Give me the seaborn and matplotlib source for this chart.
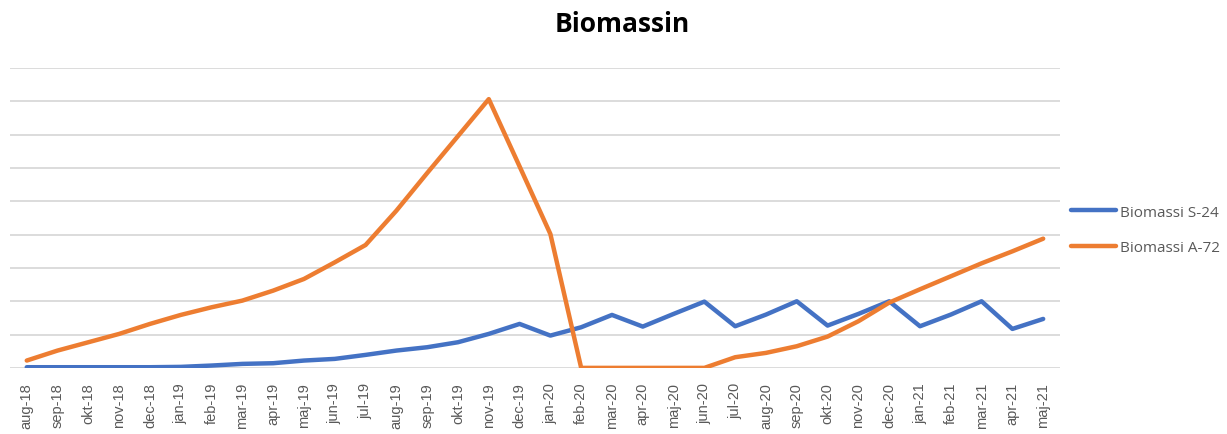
import numpy as np
import pandas as pd
import seaborn as sns
import matplotlib.pyplot as plt

months = ["aug-18", "sep-18", "okt-18", "nov-18", "dec-18", "jan-19", "feb-19", "mar-19",
          "apr-19", "maj-19", "jun-19", "jul-19", "aug-19", "sep-19", "okt-19", "nov-19",
          "dec-19", "jan-20", "feb-20", "mar-20", "apr-20", "maj-20", "jun-20", "jul-20",
          "aug-20", "sep-20", "okt-20", "nov-20", "dec-20", "jan-21", "feb-21", "mar-21",
          "apr-21", "maj-21"]

s24 = [0.02, 0.02, 0.02, 0.02, 0.02, 0.03, 0.07, 0.12, 0.14, 0.22, 0.27, 0.39, 0.52, 0.62,
       0.77, 1.02, 1.32, 0.97, 1.22, 1.59, 1.24, 1.62, 1.99, 1.25, 1.60, 2.00, 1.27, 1.62,
       2.00, 1.25, 1.60, 2.00, 1.17, 1.47]

a72 = [0.22, 0.52, 0.77, 1.02, 1.32, 1.59, 1.82, 2.02, 2.32, 2.67, 3.17, 3.69, 4.72, 5.85,
       6.96, 8.07, 6.05, 4.02, 0.0, 0.0, 0.0, 0.0, 0.0, 0.32, 0.45, 0.65, 0.94, 1.40,
       1.96, 2.36, 2.75, 3.14, 3.50, 3.88]

df = pd.DataFrame({
    "idx": list(range(len(months))) * 2,
    "value": s24 + a72,
    "serie": ["Biomassi S-24"] * len(months) + ["Biomassi A-72"] * len(months),
})

sns.set_style("white")

fig = plt.figure(figsize=(12.27, 4.35), dpi=100)
ax = fig.add_axes([0.008, 0.152, 0.856, 0.689])

sns.lineplot(data=df, x="idx", y="value", hue="serie",
             palette={"Biomassi S-24": "#4472C4", "Biomassi A-72": "#ED7D31"},
             linewidth=3.2, ax=ax, legend=True, zorder=3)

ax.set_xlim(-0.55, len(months) - 0.45)
ax.set_ylim(0, 9)
ax.set_yticks(np.arange(0, 10, 1))
ax.set_yticklabels([])
ax.tick_params(axis="y", length=0)
ax.grid(axis="y", color="#d9d9d9", linewidth=1.3, zorder=0)
ax.set_xticks(range(len(months)))
ax.set_xticklabels(months, rotation=90, fontsize=10.5, color="#595959",
                   family="Liberation Sans")
ax.tick_params(axis="x", length=0, pad=10)
ax.set_xlabel("")
ax.set_ylabel("")
for s in ax.spines.values():
    s.set_visible(False)

ax.legend(loc="center left", bbox_to_anchor=(0.862, 0.469), bbox_transform=fig.transFigure,
          frameon=False, handlelength=2.9, handletextpad=0.3,
          labelspacing=1.35, labelcolor="#595959", prop={"family": "Open Sans", "size": 11})

fig.suptitle("Biomassin", x=0.507, y=0.975, fontsize=19, fontweight="bold",
             family="Open Sans", color="black")

fig.savefig("out.png", dpi=100)
